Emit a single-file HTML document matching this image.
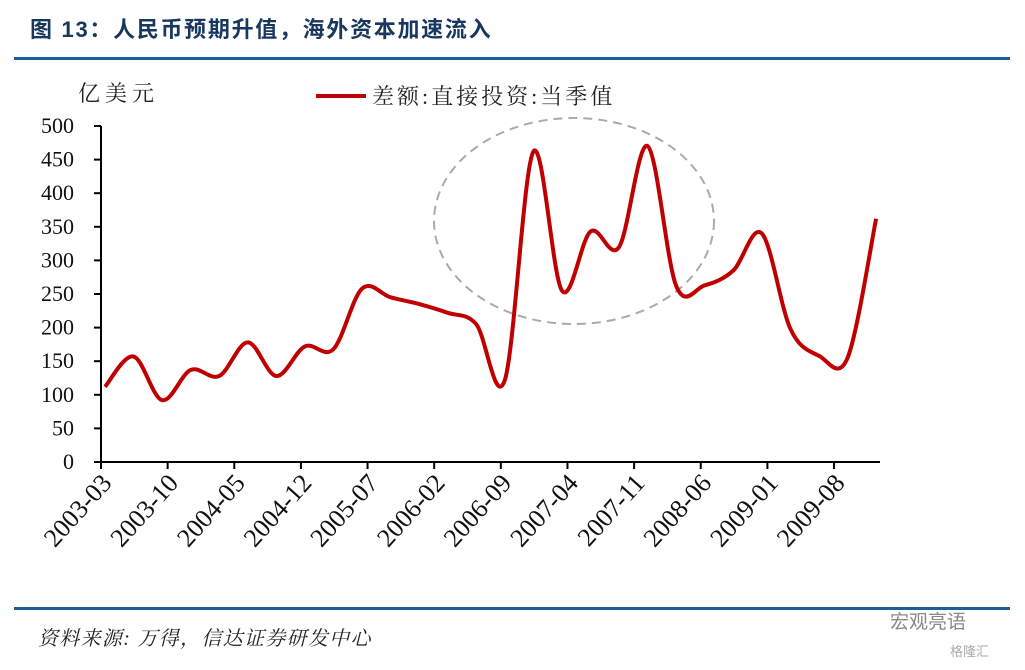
<!DOCTYPE html>
<html><head><meta charset="utf-8"><style>
body{margin:0;background:#fff;width:1025px;height:665px;overflow:hidden;font-family:"Liberation Serif","Noto Serif CJK SC",serif}
</style></head><body>
<svg width="1025" height="665" viewBox="0 0 1025 665">
<text x="30" y="37" font-size="22" font-weight="bold" letter-spacing="1.7" fill="#17375e" font-family="Liberation Sans,Noto Sans CJK SC,sans-serif">图 13：人民币预期升值，海外资本加速流入</text>
<rect x="14" y="57" width="996" height="3" fill="#1f5c99"/>
<text x="78" y="101" font-size="22" letter-spacing="5" fill="#222">亿美元</text>
<line x1="316" y1="96" x2="366" y2="96" stroke="#c00000" stroke-width="4"/>
<text x="372" y="104" font-size="22" letter-spacing="3" fill="#222">差额:直接投资:当季值</text>
<g id="axes"></g>
<ellipse cx="574" cy="221" rx="140" ry="103" fill="none" stroke="#aaa" stroke-width="2" stroke-dasharray="9,6"/>
<path id="line" fill="none" stroke="#c00000" stroke-width="4" stroke-linejoin="round"/>
<rect x="14" y="607" width="996" height="3" fill="#1f5c99"/>
<text x="38" y="645" font-size="20" letter-spacing="1.3" font-style="italic" fill="#222">资料来源: 万得，信达证券研发中心</text>
<text x="890" y="628" font-size="19" fill="#888" font-family="Liberation Sans,Noto Sans CJK SC,sans-serif">宏观亮语</text>
<text x="950" y="656" font-size="13" fill="#aaa" font-family="Liberation Sans,Noto Sans CJK SC,sans-serif">格隆汇</text>
</svg>
<script>
const months=[0,3,6,9,12,15,18,21,24,27,30,33,36,39,42,45,48,51,54,57,60,63,66,69,72,75,78,81];
const values=[112,157,92,137,128,178,128,172,168,258,245,235,222,205,122,462,255,343,320,470,262,263,285,340,198,158,155,362];
const tickLabels=["2003-03","2003-10","2004-05","2004-12","2005-07","2006-02","2006-09","2007-04","2007-11","2008-06","2009-01","2009-08"];
const yTicks=[0,50,100,150,200,250,300,350,400,450,500];
const X=m=>101+9.52*m, XD=m=>105+9.52*m, Y=v=>462-v*0.672;
const NS="http://www.w3.org/2000/svg";
const g=document.getElementById('axes');
function mk(t,a){const e=document.createElementNS(NS,t);for(const k in a)e.setAttribute(k,a[k]);g.appendChild(e);return e;}
let e=mk('line',{x1:101,y1:Y(500),x2:101,y2:462,stroke:'#000','stroke-width':2});


e=mk('line',{x1:101,y1:462,x2:880,y2:462,stroke:'#000','stroke-width':2});


yTicks.forEach(v=>{
 let t=mk('line',{x1:94,y1:Y(v),x2:101,y2:Y(v),stroke:'#000','stroke-width':2});
 
 
 let l=mk('text',{x:74,y:Y(v)+7,'font-size':22,'text-anchor':'end',fill:'#111'});
 l.textContent=v;
 
 
});
tickLabels.forEach((s,i)=>{
 const x=X(i*7);
 let t=mk('line',{x1:x,y1:462,x2:x,y2:469,stroke:'#000','stroke-width':2});
 
 
 let l=mk('text',{x:x+12,y:484,'font-size':26,'text-anchor':'end',fill:'#111',transform:`rotate(-48 ${x+12} 484)`});
 l.textContent=s;
 
 
});
const p=months.map((m,i)=>[XD(m),Y(values[i])]);
let d=`M${p[0][0]},${p[0][1]}`;
for(let i=0;i<p.length-1;i++){
 const p0=p[i-1]||p[i],p1=p[i],p2=p[i+1],p3=p[i+2]||p2;
 d+=` C${p1[0]+(p2[0]-p0[0])/6},${p1[1]+(p2[1]-p0[1])/6} ${p2[0]-(p3[0]-p1[0])/6},${p2[1]-(p3[1]-p1[1])/6} ${p2[0]},${p2[1]}`;
}
document.getElementById('line').setAttribute('d',d);
</script>
</body></html>
